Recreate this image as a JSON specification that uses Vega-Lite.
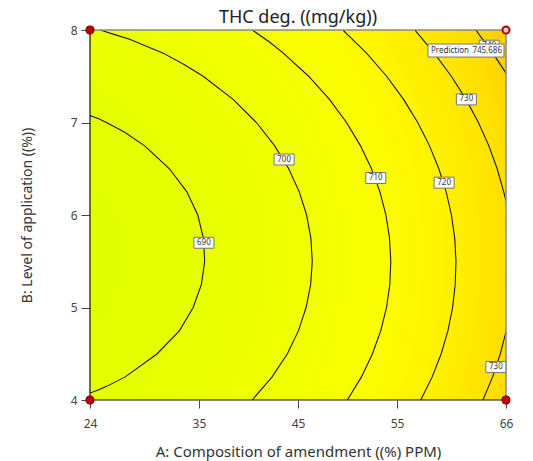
{
  "$schema": "https://vega.github.io/schema/vega-lite/v6.json",
  "width": 416,
  "height": 370,
  "autosize": {"type": "none"},
  "padding": {"left": 90, "top": 30, "right": 27, "bottom": 61},
  "background": "white",
  "config": {"view": {"stroke": null}, "font": "Noto Sans"},
  "title": {"text": "THC deg. ((mg/kg))", "fontSize": 18, "font": "Noto Sans", "fontWeight": "normal", "color": "#222", "offset": -5},
  "datasets": {
    "contours": [
      {"seg": "690", "x": 24.0, "y": 4.075},
      {"seg": "690", "x": 24.89, "y": 4.11},
      {"seg": "690", "x": 25.73, "y": 4.15},
      {"seg": "690", "x": 27.56, "y": 4.25},
      {"seg": "690", "x": 30.79, "y": 4.5},
      {"seg": "690", "x": 33.04, "y": 4.75},
      {"seg": "690", "x": 34.42, "y": 5.0},
      {"seg": "690", "x": 35.25, "y": 5.25},
      {"seg": "690", "x": 35.58, "y": 5.5},
      {"seg": "690", "x": 35.45, "y": 5.75},
      {"seg": "690", "x": 34.88, "y": 6.0},
      {"seg": "690", "x": 33.78, "y": 6.25},
      {"seg": "690", "x": 32.02, "y": 6.5},
      {"seg": "690", "x": 29.49, "y": 6.75},
      {"seg": "690", "x": 27.42, "y": 6.9},
      {"seg": "690", "x": 25.65, "y": 7.0},
      {"seg": "690", "x": 24.89, "y": 7.04},
      {"seg": "690", "x": 24.0, "y": 7.075},
      {"seg": "700", "x": 40.37, "y": 4.0},
      {"seg": "700", "x": 42.39, "y": 4.25},
      {"seg": "700", "x": 43.93, "y": 4.5},
      {"seg": "700", "x": 45.05, "y": 4.75},
      {"seg": "700", "x": 45.82, "y": 5.0},
      {"seg": "700", "x": 46.28, "y": 5.25},
      {"seg": "700", "x": 46.44, "y": 5.5},
      {"seg": "700", "x": 46.3, "y": 5.75},
      {"seg": "700", "x": 45.87, "y": 6.0},
      {"seg": "700", "x": 45.13, "y": 6.25},
      {"seg": "700", "x": 44.06, "y": 6.5},
      {"seg": "700", "x": 42.63, "y": 6.75},
      {"seg": "700", "x": 40.8, "y": 7.0},
      {"seg": "700", "x": 38.45, "y": 7.25},
      {"seg": "700", "x": 35.43, "y": 7.5},
      {"seg": "700", "x": 33.54, "y": 7.625},
      {"seg": "700", "x": 31.39, "y": 7.75},
      {"seg": "700", "x": 28.0, "y": 7.9},
      {"seg": "700", "x": 26.5, "y": 7.95},
      {"seg": "700", "x": 25.03, "y": 8.0},
      {"seg": "710", "x": 49.98, "y": 4.0},
      {"seg": "710", "x": 51.41, "y": 4.25},
      {"seg": "710", "x": 52.52, "y": 4.5},
      {"seg": "710", "x": 53.36, "y": 4.75},
      {"seg": "710", "x": 53.94, "y": 5.0},
      {"seg": "710", "x": 54.27, "y": 5.25},
      {"seg": "710", "x": 54.37, "y": 5.5},
      {"seg": "710", "x": 54.24, "y": 5.75},
      {"seg": "710", "x": 53.88, "y": 6.0},
      {"seg": "710", "x": 53.27, "y": 6.25},
      {"seg": "710", "x": 52.42, "y": 6.5},
      {"seg": "710", "x": 51.3, "y": 6.75},
      {"seg": "710", "x": 49.9, "y": 7.0},
      {"seg": "710", "x": 48.18, "y": 7.25},
      {"seg": "710", "x": 46.07, "y": 7.5},
      {"seg": "710", "x": 43.52, "y": 7.75},
      {"seg": "710", "x": 42.05, "y": 7.875},
      {"seg": "710", "x": 40.38, "y": 8.0},
      {"seg": "720", "x": 57.39, "y": 4.0},
      {"seg": "720", "x": 58.55, "y": 4.25},
      {"seg": "720", "x": 59.46, "y": 4.5},
      {"seg": "720", "x": 60.14, "y": 4.75},
      {"seg": "720", "x": 60.61, "y": 5.0},
      {"seg": "720", "x": 60.87, "y": 5.25},
      {"seg": "720", "x": 60.95, "y": 5.5},
      {"seg": "720", "x": 60.82, "y": 5.75},
      {"seg": "720", "x": 60.49, "y": 6.0},
      {"seg": "720", "x": 59.96, "y": 6.25},
      {"seg": "720", "x": 59.22, "y": 6.5},
      {"seg": "720", "x": 58.27, "y": 6.75},
      {"seg": "720", "x": 57.09, "y": 7.0},
      {"seg": "720", "x": 55.66, "y": 7.25},
      {"seg": "720", "x": 53.95, "y": 7.5},
      {"seg": "720", "x": 51.92, "y": 7.75},
      {"seg": "720", "x": 49.53, "y": 8.0},
      {"seg": "730a", "x": 66.0, "y": 6.15},
      {"seg": "730a", "x": 65.77, "y": 6.25},
      {"seg": "730a", "x": 65.11, "y": 6.5},
      {"seg": "730a", "x": 64.26, "y": 6.75},
      {"seg": "730a", "x": 63.21, "y": 7.0},
      {"seg": "730a", "x": 61.97, "y": 7.25},
      {"seg": "730a", "x": 60.48, "y": 7.5},
      {"seg": "730a", "x": 58.75, "y": 7.75},
      {"seg": "730a", "x": 56.79, "y": 8.0},
      {"seg": "730b", "x": 63.67, "y": 4.0},
      {"seg": "730b", "x": 64.65, "y": 4.25},
      {"seg": "730b", "x": 65.43, "y": 4.5},
      {"seg": "730b", "x": 66.0, "y": 4.74},
      {"seg": "740", "x": 66.0, "y": 7.534},
      {"seg": "740", "x": 64.67, "y": 7.75},
      {"seg": "740", "x": 63.81, "y": 7.875},
      {"seg": "740", "x": 62.95, "y": 8.0}
    ],
    "labels": [
      {"label": "690", "x": 35.5, "y": 5.7},
      {"label": "700", "x": 43.6, "y": 6.6},
      {"label": "710", "x": 52.85, "y": 6.4},
      {"label": "720", "x": 59.75, "y": 6.35},
      {"label": "730", "x": 62.0, "y": 7.25},
      {"label": "730", "x": 64.98, "y": 4.357},
      {"label": "740", "x": 64.3, "y": 7.83}
    ],
    "prediction": [
      {"name": "Prediction", "value": "745.686", "x": 61.96, "y": 7.778}
    ]
  },
  "layer": [
    {
      "data": {"values": [{"x0": 24, "x1": 66, "y0": 4, "y1": 8}]},
      "mark": {
        "type": "rect",
        "fill": {
          "gradient": "radial",
          "x1": -0.204, "y1": 0.596, "r1": 0,
          "x2": -0.204, "y2": 0.596, "r2": 1.32,
          "stops": [
            {"offset": 0.0, "color": "#dcff00"},
            {"offset": 0.153, "color": "#e1ff00"},
            {"offset": 0.363, "color": "#e7ff00"},
            {"offset": 0.559, "color": "#f1ff00"},
            {"offset": 0.702, "color": "#fbfc00"},
            {"offset": 0.82, "color": "#fff000"},
            {"offset": 0.924, "color": "#ffdf00"},
            {"offset": 1.0, "color": "#fbcc00"}
          ]
        }
      },
      "encoding": {
        "x": {
          "field": "x0", "type": "quantitative",
          "scale": {"domain": [24, 66], "nice": false, "zero": false},
          "axis": {
            "values": [24, 35, 45, 55, 66],
            "format": "d",
            "title": "A: Composition of amendment ((%) PPM)",
            "domain": false, "grid": false,
            "tickSize": 8, "tickColor": "#444", "tickWidth": 1,
            "labelFontSize": 12, "labelColor": "#444", "labelPadding": 10,
            "labelFlush": false, "labelOverlap": false,
            "labelFont": "Noto Sans", "titleFont": "Noto Sans",
            "titleFontSize": 15, "titleFontWeight": "normal", "titleColor": "#333",
            "titlePadding": 15
          }
        },
        "x2": {"field": "x1"},
        "y": {
          "field": "y0", "type": "quantitative",
          "scale": {"domain": [4, 8], "nice": false, "zero": false},
          "axis": {
            "values": [4, 5, 6, 7, 8],
            "format": "d",
            "title": "B: Level of application ((%))",
            "domain": false, "grid": false,
            "tickSize": 9, "tickColor": "#444", "tickWidth": 1,
            "labelFontSize": 12, "labelColor": "#444", "labelPadding": 4,
            "labelFlush": false, "labelOverlap": false,
            "labelFont": "Noto Sans", "titleFont": "Noto Sans",
            "titleFontSize": 14, "titleFontWeight": "normal", "titleColor": "#333",
            "titlePadding": 36
          }
        },
        "y2": {"field": "y1"}
      }
    },
    {
      "data": {"name": "contours"},
      "mark": {"type": "line", "color": "#1a1a1a", "strokeWidth": 1.1, "clip": true},
      "encoding": {
        "x": {"field": "x", "type": "quantitative"},
        "y": {"field": "y", "type": "quantitative"},
        "detail": {"field": "seg", "type": "nominal"},
        "order": {"field": "y", "type": "quantitative"}
      }
    },
    {
      "data": {"values": [{"x": 24, "y": 8, "xe": 66, "ye": 8}, {"x": 66, "y": 4, "xe": 66, "ye": 8}]},
      "mark": {"type": "rule", "color": "#8a8a8a", "strokeWidth": 1.5},
      "encoding": {
        "x": {"field": "x", "type": "quantitative"},
        "y": {"field": "y", "type": "quantitative"},
        "x2": {"field": "xe"},
        "y2": {"field": "ye"}
      }
    },
    {
      "data": {"values": [{"x": 24, "y": 4, "xe": 24, "ye": 8}, {"x": 24, "y": 4, "xe": 66, "ye": 4}]},
      "mark": {"type": "rule", "color": "#111", "strokeWidth": 1.2},
      "encoding": {
        "x": {"field": "x", "type": "quantitative"},
        "y": {"field": "y", "type": "quantitative"},
        "x2": {"field": "xe"},
        "y2": {"field": "ye"}
      }
    },
    {
      "data": {"name": "labels"},
      "mark": {"type": "point", "shape": "M-1,-0.55L1,-0.55L1,0.55L-1,0.55Z", "size": 400, "filled": true, "fill": "white", "fillOpacity": 1, "stroke": "#777", "strokeWidth": 1, "opacity": 1},
      "encoding": {
        "x": {"field": "x", "type": "quantitative"},
        "y": {"field": "y", "type": "quantitative"}
      }
    },
    {
      "data": {"name": "labels"},
      "mark": {"type": "text", "fontSize": 8, "color": "#333", "font": "Noto Sans", "baseline": "middle", "align": "center"},
      "encoding": {
        "x": {"field": "x", "type": "quantitative"},
        "y": {"field": "y", "type": "quantitative"},
        "text": {"field": "label", "type": "nominal"}
      }
    },
    {
      "data": {"name": "prediction"},
      "mark": {"type": "point", "shape": "M-1,-0.171L1,-0.171L1,0.171L-1,0.171Z", "size": 5776, "filled": true, "fill": "white", "fillOpacity": 1, "stroke": "#777", "strokeWidth": 1, "opacity": 1},
      "encoding": {
        "x": {"field": "x", "type": "quantitative"},
        "y": {"field": "y", "type": "quantitative"}
      }
    },
    {
      "data": {"name": "prediction"},
      "mark": {"type": "text", "fontSize": 8, "color": "#333", "font": "Noto Sans", "baseline": "middle", "align": "left", "dx": -35},
      "encoding": {
        "x": {"field": "x", "type": "quantitative"},
        "y": {"field": "y", "type": "quantitative"},
        "text": {"field": "name", "type": "nominal"}
      }
    },
    {
      "data": {"name": "prediction"},
      "mark": {"type": "text", "fontSize": 8, "color": "#333", "font": "Noto Sans", "baseline": "middle", "align": "right", "dx": 36},
      "encoding": {
        "x": {"field": "x", "type": "quantitative"},
        "y": {"field": "y", "type": "quantitative"},
        "text": {"field": "value", "type": "nominal"}
      }
    },
    {
      "data": {"values": [{"x": 24, "y": 4}, {"x": 24, "y": 8}, {"x": 66, "y": 4}]},
      "mark": {"type": "point", "shape": "circle", "size": 65, "filled": true, "fill": "#c00000", "fillOpacity": 1, "stroke": "#6a0000", "strokeWidth": 1, "opacity": 1},
      "encoding": {
        "x": {"field": "x", "type": "quantitative"},
        "y": {"field": "y", "type": "quantitative"}
      }
    },
    {
      "data": {"values": [{"x": 66, "y": 8}]},
      "mark": {"type": "point", "shape": "circle", "size": 50, "filled": true, "fill": "#e0cccc", "fillOpacity": 1, "stroke": "#b00000", "strokeWidth": 2, "opacity": 1},
      "encoding": {
        "x": {"field": "x", "type": "quantitative"},
        "y": {"field": "y", "type": "quantitative"}
      }
    }
  ]
}
